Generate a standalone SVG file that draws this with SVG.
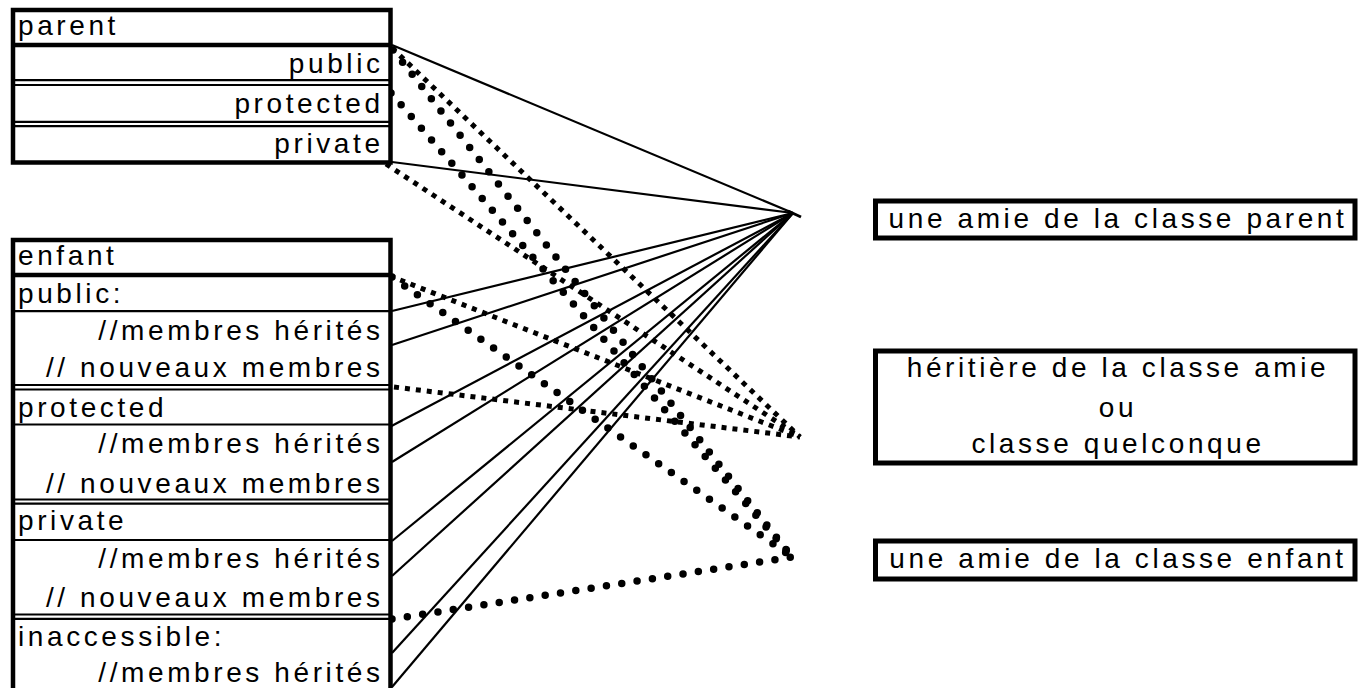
<svg xmlns="http://www.w3.org/2000/svg" width="1364" height="688" viewBox="0 0 1364 688">
<style>
  .frame { fill: none; stroke: #000; stroke-width: 4.5; }
  .thick { stroke: #000; stroke-width: 4.5; }
  .thin { stroke: #000; stroke-width: 2.2; }
  .box { fill: #fff; stroke: #000; stroke-width: 5; }
  text { font-family: "Liberation Sans", Arial, sans-serif; font-size: 28px; letter-spacing: 3.6px; fill: #000; }
  .r { text-anchor: end; }
  .m { text-anchor: middle; }
  .solid { fill: none; stroke: #000; stroke-width: 2.2; }
  .sq { fill: none; stroke: #000; stroke-width: 5; stroke-dasharray: 5 6; }
  .rd { fill: none; stroke: #000; stroke-width: 7.5; stroke-linecap: round; stroke-dasharray: 0 15.5; }
</style>
<rect x="0" y="0" width="1364" height="688" fill="#fff"/>

<g id="connectors">
  <g id="solid-lines">
    <line class="solid" x1="392" y1="45" x2="793" y2="213"/>
    <line class="solid" x1="392" y1="162" x2="793" y2="213"/>
    <line class="solid" x1="392" y1="311" x2="793" y2="213"/>
    <line class="solid" x1="392" y1="345" x2="793" y2="213"/>
    <line class="solid" x1="384" y1="430" x2="793" y2="213"/>
    <line class="solid" x1="392" y1="462" x2="793" y2="213"/>
    <line class="solid" x1="392" y1="541" x2="793" y2="213"/>
    <line class="solid" x1="392" y1="576" x2="793" y2="213"/>
    <line class="solid" x1="392" y1="653" x2="793" y2="213"/>
    <line class="solid" x1="392" y1="687" x2="793" y2="213"/>
    <line x1="788" y1="211" x2="801" y2="217" stroke="#000" stroke-width="3"/>
  </g>
  <g id="square-dotted">
    <line class="sq" x1="392" y1="48" x2="800" y2="437"/>
    <line class="sq" x1="386" y1="164" x2="800" y2="437"/>
    <line class="sq" x1="390" y1="276" x2="800" y2="437"/>
    <line class="sq" x1="394" y1="387" x2="800" y2="437"/>
  </g>
  <g id="round-dotted">
    <line class="rd" x1="393" y1="50" x2="792" y2="557"/>
    <line class="rd" x1="391" y1="93" x2="792" y2="557"/>
    <line class="rd" x1="392" y1="277" x2="792" y2="557"/>
    <line class="rd" x1="392" y1="619" x2="792" y2="557"/>
  </g>
</g>

<g id="parent">
  <rect x="13" y="10" width="377.5" height="152.5" fill="#fff" stroke="none"/>
  <line class="thick" x1="13" y1="45" x2="390.5" y2="45"/>
  <line class="thin" x1="13" y1="80.2" x2="390.5" y2="80.2"/>
  <line class="thin" x1="13" y1="85" x2="390.5" y2="85"/>
  <line class="thin" x1="13" y1="121.8" x2="390.5" y2="121.8"/>
  <line class="thin" x1="13" y1="126.2" x2="390.5" y2="126.2"/>
  <rect class="frame" x="13" y="10" width="377.5" height="152.5"/>
  <text x="18" y="35">parent</text>
  <text class="r" x="383.6" y="72.7">public</text>
  <text class="r" x="383.6" y="112.7">protected</text>
  <text class="r" x="383.6" y="152.7">private</text>
</g>

<g id="enfant">
  <rect x="13" y="240" width="377.5" height="460" fill="#fff" stroke="none"/>
  <line class="thick" x1="13" y1="275" x2="390.5" y2="275"/>
  <line class="thin" x1="13" y1="311.2" x2="390.5" y2="311.2"/>
  <line class="thin" x1="13" y1="385" x2="390.5" y2="385"/>
  <line class="thin" x1="13" y1="389.5" x2="390.5" y2="389.5"/>
  <line class="thin" x1="13" y1="424.5" x2="390.5" y2="424.5"/>
  <line class="thin" x1="13" y1="499.5" x2="390.5" y2="499.5"/>
  <line class="thin" x1="13" y1="503.7" x2="390.5" y2="503.7"/>
  <line class="thin" x1="13" y1="540" x2="390.5" y2="540"/>
  <line class="thin" x1="13" y1="614.5" x2="390.5" y2="614.5"/>
  <line class="thin" x1="13" y1="618.8" x2="390.5" y2="618.8"/>
  <path class="frame" d="M13,700 V240 H390.5 V700"/>
  <text x="18" y="265">enfant</text>
  <text x="18" y="302.7">public:</text>
  <text class="r" x="383.6" y="340">//membres hérités</text>
  <text class="r" x="383.6" y="376.7">// nouveaux membres</text>
  <text x="18" y="416.7">protected</text>
  <text class="r" x="383.6" y="453.3">//membres hérités</text>
  <text class="r" x="383.6" y="493.3">// nouveaux membres</text>
  <text x="18" y="530">private</text>
  <text class="r" x="383.6" y="568.3">//membres hérités</text>
  <text class="r" x="383.6" y="606.7">// nouveaux membres</text>
  <text x="18" y="646">inaccessible:</text>
  <text class="r" x="383.6" y="681.7">//membres hérités</text>
</g>

<g id="ami-parent">
  <rect class="box" x="875.5" y="201" width="479.5" height="37"/>
  <text class="m" x="1118" y="228.3">une amie de la classe parent</text>
</g>

<g id="heritiere">
  <rect class="box" x="875.5" y="351" width="479.5" height="112"/>
  <text class="m" x="1118" y="376.7">héritière de la classe amie</text>
  <text class="m" x="1118" y="417">ou</text>
  <text class="m" x="1118" y="453.3">classe quelconque</text>
</g>

<g id="ami-enfant">
  <rect class="box" x="875.5" y="541" width="479.5" height="38"/>
  <text class="m" x="1118" y="568.3">une amie de la classe enfant</text>
</g>
</svg>
